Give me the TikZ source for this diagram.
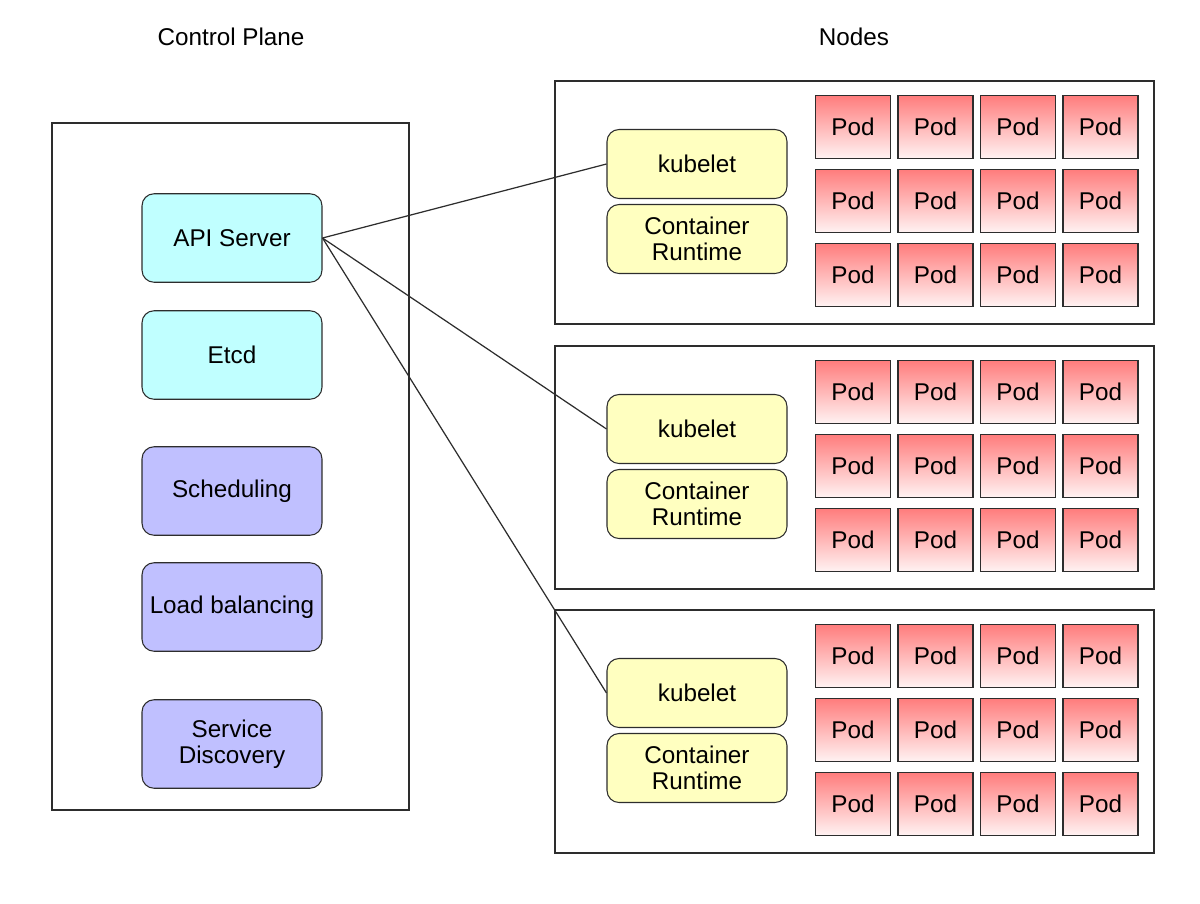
\documentclass[tikz,border=0pt]{standalone}
\usepackage{fontspec}
\setmainfont{Liberation Sans}
\usetikzlibrary{positioning}
\definecolor{apicyan}{RGB}{192,255,255}
\definecolor{svcpurple}{RGB}{192,192,255}
\definecolor{kubeyellow}{RGB}{255,255,192}
\definecolor{podtop}{RGB}{255,125,125}
\definecolor{podbottom}{RGB}{255,242,242}
\definecolor{edge}{RGB}{45,45,45}
\tikzset{
    frame/.style={draw=edge, line width=0.8pt},
    cpbox/.style={draw=edge, rounded corners=0.24cm, minimum width=3.6cm, minimum height=1.77cm, align=center, line width=0.6pt},
    kubebox/.style={draw=edge, rounded corners=0.24cm, fill=kubeyellow, minimum width=3.6cm, minimum height=1.38cm, align=center, line width=0.6pt},
    podbox/.style={draw=edge, top color=podtop, bottom color=podbottom, minimum width=1.5cm, minimum height=1.25cm, line width=0.6pt},
}

\begin{document}
\begin{tikzpicture}[x=0.02cm, y=-0.02cm, font=\fontsize{13.8}{16}\selectfont]
\useasboundingbox (0,0) rectangle (1200,903);

% Titles
\node (cptitle) at (231,37) {Control Plane};
\node (ndtitle) at (854,37) {Nodes};

% Control plane
\draw[frame] (52,123) rectangle (409,810);
\node[cpbox, fill=apicyan] (api) at (232,238) {API Server};
\node[cpbox, fill=apicyan] (etcd) at (232,355) {Etcd};
\node[cpbox, fill=svcpurple] (sched) at (232,491) {Scheduling};
\node[cpbox, fill=svcpurple] (lb) at (232,607) {Load balancing};
\node[cpbox, fill=svcpurple] (sd) at (232,744) {Service\\[-1pt]Discovery};

% Worker nodes
\foreach \n/\dy in {1/0,2/265,3/529}{
    \draw[frame] (555,81+\dy) rectangle (1154,324+\dy);
    \node[kubebox] (kubelet\n) at (697,164+\dy) {kubelet};
    \node[kubebox] (runtime\n) at (697,239+\dy) {Container\\[-1pt]Runtime};
    % Pods
    \foreach \i in {0,...,3}{
        \foreach \j in {0,...,2}{
            \node[podbox] (pod\n\i\j) at (853+82.5*\i,127+74*\j+\dy) {Pod};
        }
    }
    \draw[edge, line width=0.7pt] (api.east) -- (kubelet\n.west);
}

\end{tikzpicture}
\end{document}
